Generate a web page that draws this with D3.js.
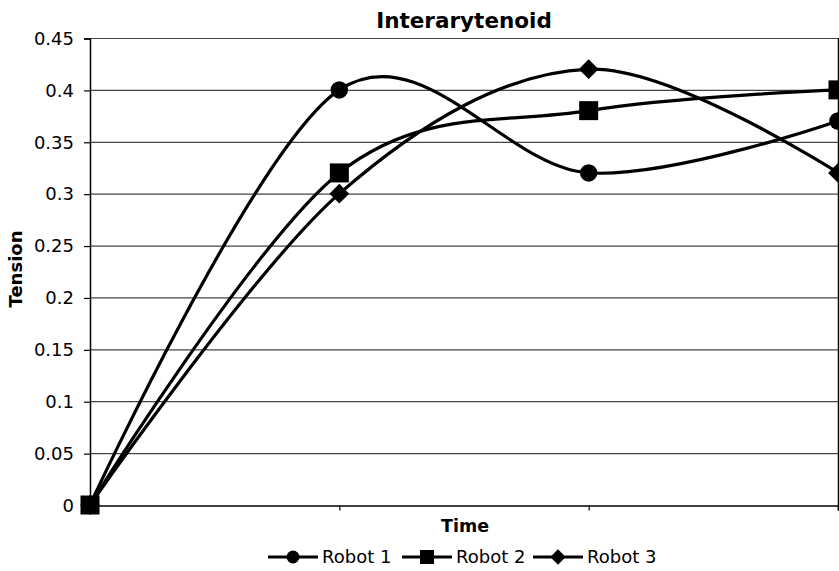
<!DOCTYPE html>
<html><head><meta charset="utf-8">
<script src="https://cdn.jsdelivr.net/npm/d3@7"></script>
<style>body{margin:0;background:#fff}svg{display:block}text{font-family:"DejaVu Sans",Verdana,sans-serif;fill:#000}</style>
</head><body><svg id="c" width="839" height="571"></svg>
<script>
const categories = ["0","1","2","3"];
const robot1 = [0, 0.40, 0.32, 0.37];
const robot2 = [0, 0.32, 0.38, 0.40];
const robot3 = [0, 0.30, 0.42, 0.32];
const yTicks = [0,0.05,0.1,0.15,0.2,0.25,0.3,0.35,0.4,0.45];
const seriesNames = ["Robot 1","Robot 2","Robot 3"];
const seriesShapes = ["circle","square","diamond"];
const series = [robot1, robot2, robot3].map((v,i)=>({name:seriesNames[i], shape:seriesShapes[i], values:v}));

const svg = d3.select("#c");
const m = {l:90, r:838, t:38, b:505};
const x = d3.scalePoint().domain(categories).range([m.l, m.r]);
const y = d3.scaleLinear().domain([0,0.45]).range([m.b, m.t]);

// gridlines
svg.append("g").selectAll("line").data(yTicks.slice(1)).join("line")
  .attr("x1", m.l).attr("x2", m.r).attr("y1", d=>y(d)+0.5).attr("y2", d=>y(d)+0.5)
  .attr("stroke","#444").attr("stroke-width",1.2);
// right border
svg.append("line").attr("x1",m.r+0.5).attr("x2",m.r+0.5).attr("y1",m.t).attr("y2",m.b+5).attr("stroke","#000").attr("stroke-width",1.5);

// y axis
const ya = svg.append("g").attr("transform",`translate(${m.l},0.5)`)
  .call(d3.axisLeft(y).tickValues(yTicks).tickFormat(d=>String(+d.toFixed(2))).tickSize(6).tickPadding(10));
ya.select(".domain").attr("stroke","#000").attr("stroke-width",1.5);
ya.selectAll(".tick line").attr("stroke","#000").attr("stroke-width",1.2);
ya.selectAll("text").style("font-size","18px").attr("fill","#000");

// x axis
const xa = svg.append("g").attr("transform",`translate(0,${m.b+0.5})`)
  .call(d3.axisBottom(x).tickSize(5).tickFormat(""));
xa.select(".domain").attr("stroke","#000").attr("stroke-width",1.5);
xa.selectAll(".tick line").attr("stroke","#000").attr("stroke-width",1.2);
xa.selectAll(".tick").filter((d,i)=>i===0).remove();

// lines
const line = d3.line().x((d,i)=>x(categories[i])).y(d=>y(d)).curve(d3.curveCatmullRom.alpha(0));
svg.append("g").selectAll("path").data(series).join("path")
  .attr("d", d=>line(d.values)).attr("fill","none").attr("stroke","#000").attr("stroke-width",3.2);

function marker(g, shape, cx, cy, s) {
  if (shape==="circle") g.append("circle").attr("cx",cx).attr("cy",cy).attr("r",s*0.5);
  else if (shape==="square") g.append("rect").attr("x",cx-s/2).attr("y",cy-s/2).attr("width",s).attr("height",s);
  else g.append("path").attr("d",`M${cx},${cy-s*0.55}L${cx+s*0.55},${cy}L${cx},${cy+s*0.55}L${cx-s*0.55},${cy}Z`);
}
const mk = svg.append("g").attr("fill","#000");
series.forEach(s=>{
  s.values.forEach((v,i)=>marker(mk, s.shape, x(categories[i]), y(v), s.shape==="circle"?17.5:(s.shape==="square"?19:18)));
});

// title & axis labels
svg.append("text").attr("x",464).attr("y",28).attr("text-anchor","middle")
  .style("font-size","21.5px").style("font-weight","bold").text("Interarytenoid");
svg.append("text").attr("x",465).attr("y",532).attr("text-anchor","middle")
  .style("font-size","17.5px").style("font-weight","bold").text("Time");
svg.append("text").attr("transform","translate(22,269) rotate(-90)").attr("text-anchor","middle")
  .style("font-size","18px").style("font-weight","bold").text("Tension");

// legend
const legX = [268, 402, 533];
const lg = svg.append("g");
series.forEach((s,i)=>{
  const g = lg.append("g");
  const x0 = legX[i], yy = 557;
  g.append("line").attr("x1",x0).attr("x2",x0+50).attr("y1",yy).attr("y2",yy).attr("stroke","#000").attr("stroke-width",3);
  marker(g.attr("fill","#000"), s.shape, x0+25, yy, s.shape==="circle"?13:(s.shape==="square"?14:14));
  g.append("text").attr("x",x0+54).attr("y",yy+6).style("font-size","18px").text(s.name);
});
</script></body></html>
